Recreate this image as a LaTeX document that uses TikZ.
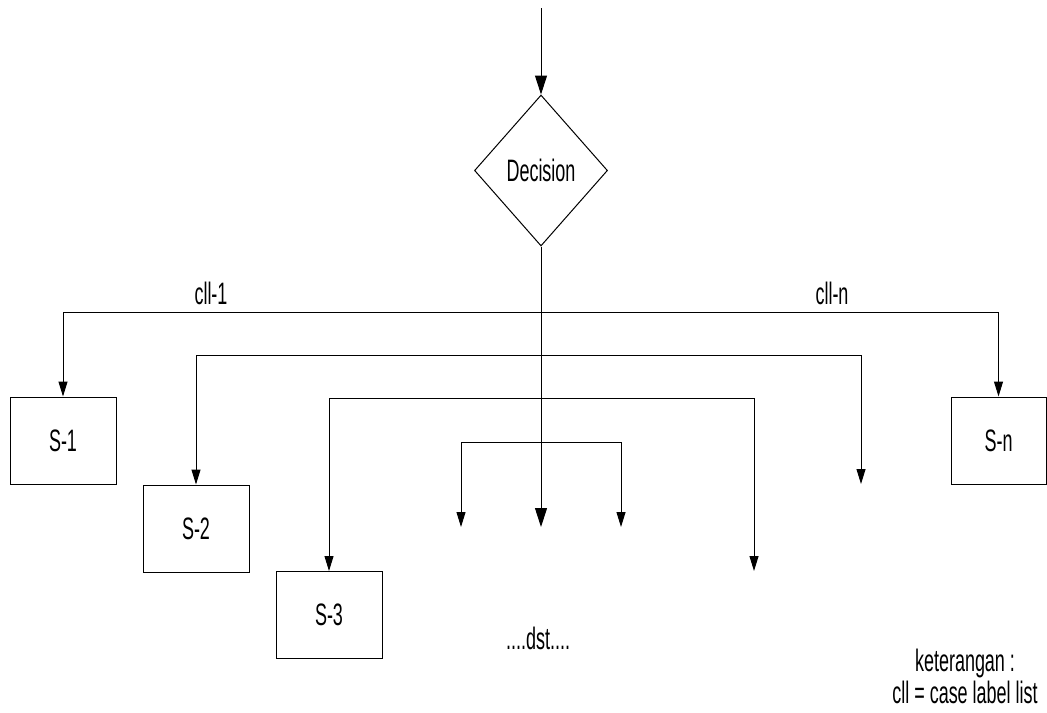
\documentclass[tikz,border=0pt]{standalone}
\usepackage{fontspec}
\setmainfont{Liberation Sans}[FakeStretch=0.58]
\usetikzlibrary{shapes.geometric,arrows.meta}
\begin{document}
\begin{tikzpicture}[x=0.5pt,y=-0.5pt,
  line width=0.5pt,
  lbl/.style={font=\fontsize{15.5pt}{18pt}\selectfont, inner sep=0pt},
  sbox/.style={draw, rectangle, minimum width=53pt, minimum height=43.5pt, inner sep=0pt, font=\fontsize{15.5pt}{18pt}\selectfont},
  dec/.style={draw, diamond, minimum width=66.5pt, minimum height=75.5pt, inner sep=0pt, font=\fontsize{15.5pt}{18pt}\selectfont},
  sarr/.style={-{Triangle[length=7.5pt,width=4.5pt]}},
  barr/.style={-{Triangle[length=9.5pt,width=6pt]}}]
\useasboundingbox (0,0) rectangle (1047,712);
\node[dec] (decision) at (541,170.5) {Decision};
\node[sbox] (s1) at (63,440.5) {S-1};
\node[sbox] (s2) at (196,528.5) {S-2};
\node[sbox] (s3) at (329,615) {S-3};
\node[sbox, minimum width=47.5pt] (sn) at (998.5,440.5) {S-n};
\coordinate (top) at (541,8);
\coordinate (mid) at (541,527);
\coordinate (j1) at (541,312);
\coordinate (j2) at (541,355);
\coordinate (j3) at (541,398);
\coordinate (j4) at (541,442);
\coordinate (e2) at (861,484);
\coordinate (e3) at (754,571);
\coordinate (d1) at (461,527);
\coordinate (d3) at (621,527);
\draw[barr] (top) -- (decision.north);
\draw[barr] (decision.south) -- (mid);
\draw[sarr] (j1) -| (s1.north);
\draw[sarr] (j1) -| (sn.north);
\draw[sarr] (j2) -| (s2.north);
\draw[sarr] (j2) -| (e2);
\draw[sarr] (j3) -| (s3.north);
\draw[sarr] (j3) -| (e3);
\draw[sarr] (j4) -| (d1);
\draw[sarr] (j4) -| (d3);
\node[lbl] (l1) at (211,293) {cll-1};
\node[lbl] (ln) at (832,293) {cll-n};
\node[lbl] (dst) at (538,638) {....dst....};
\node[lbl] (k1) at (965,663) {keterangan :};
\node[lbl] (k2) at (965,692) {cll = case label list};
\end{tikzpicture}
\end{document}
